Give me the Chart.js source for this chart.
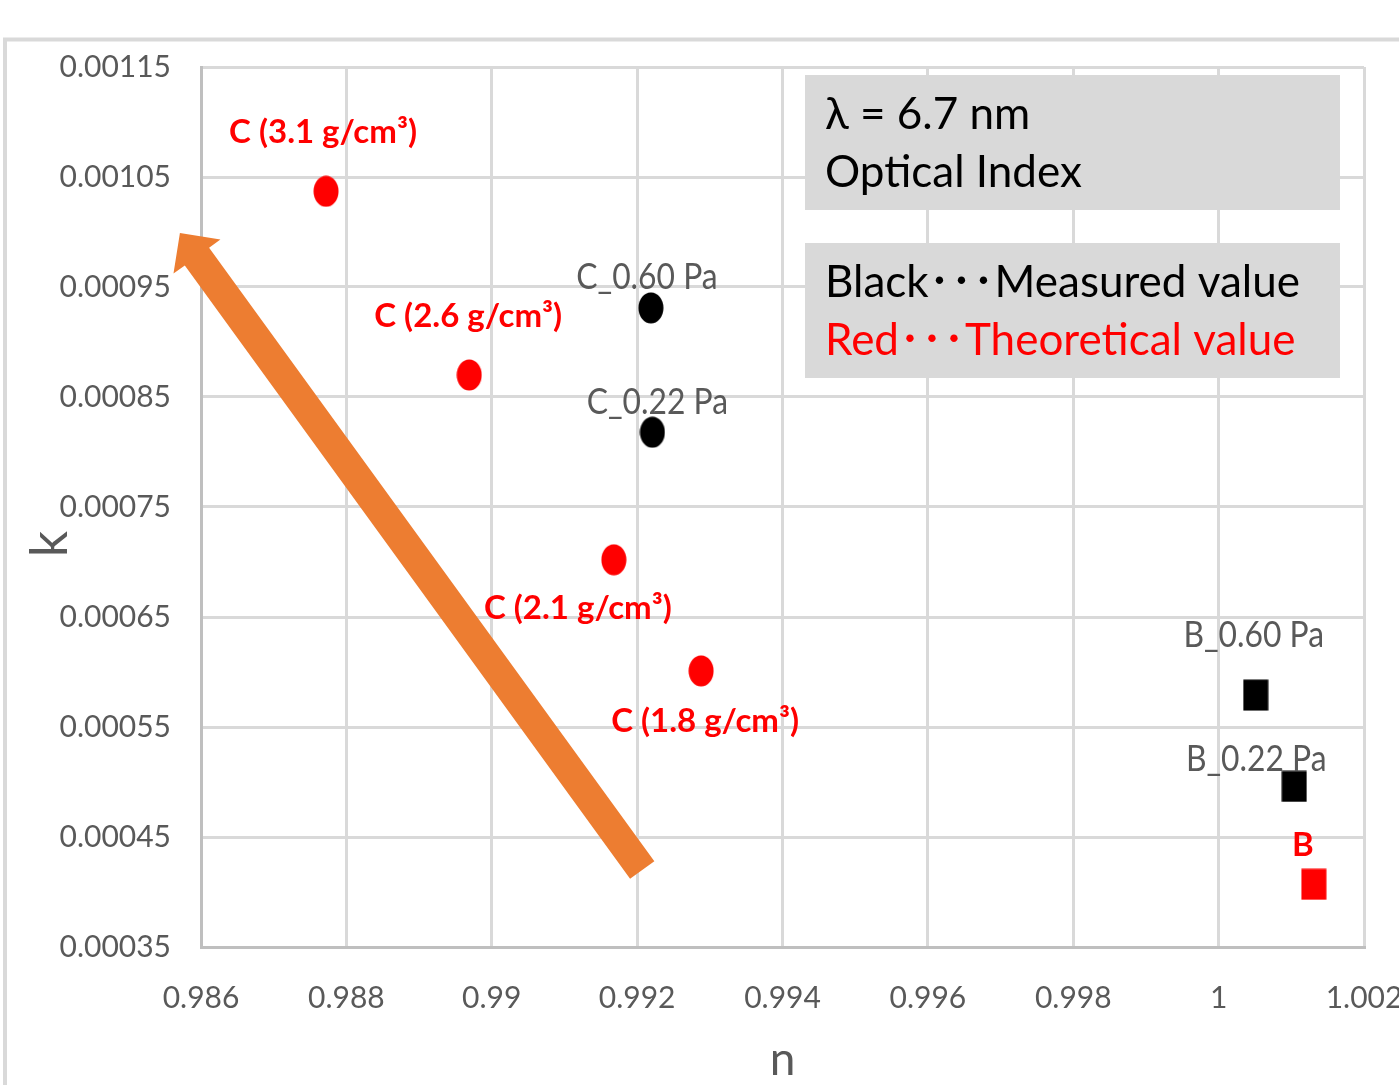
<!DOCTYPE html>
<html>
<head>
<meta charset="utf-8">
<script src="https://cdn.jsdelivr.net/npm/chart.js@4.4.1/dist/chart.umd.min.js"></script>
<style>
  html, body { margin: 0; padding: 0; background: #fff; }
  canvas { display: block; }
</style>
</head>
<body>
<canvas id="opticalChart" width="1399" height="1085"></canvas>
<script>
// values (n = refractive index, k = extinction coefficient)
const theoCNames = ["C (3.1 g/cm³)", "C (2.6 g/cm³)", "C (2.1 g/cm³)", "C (1.8 g/cm³)"];
const theoCN = [0.98772, 0.98969, 0.99168, 0.99288];
const theoCK = [0.001037, 0.00087, 0.000702, 0.000601];

const measCNames = ["C_0.60 Pa", "C_0.22 Pa"];
const measCN = [0.99219, 0.99221];
const measCK = [0.000931, 0.000818];

const measBNames = ["B_0.60 Pa", "B_0.22 Pa"];
const measBN = [1.00051, 1.00104];
const measBK = [0.000579, 0.000496];

const theoBNames = ["B"];
const theoBN = [1.00131];
const theoBK = [0.000407];

const nTicks = [0.986, 0.988, 0.99, 0.992, 0.994, 0.996, 0.998, 1, 1.002];
const kTicks = [0.00035, 0.00045, 0.00055, 0.00065, 0.00075, 0.00085, 0.00095, 0.00105, 0.00115];

// trend arrow, in (n, k)
const arrowFrom = [0.99207, 0.00042];
const arrowTo = [0.98571, 0.000999];

const FONT = "Lato, 'Noto Sans CJK JP', sans-serif";
const GREY_TEXT = "#595959";

function marker(shape, color) {
  const c = document.createElement("canvas");
  c.width = 26;
  c.height = 32;
  const g = c.getContext("2d");
  g.fillStyle = color;
  if (shape === "ellipse") {
    g.beginPath();
    g.ellipse(13, 16, 12.5, 15.5, 0, 0, Math.PI * 2);
    g.fill();
  } else {
    g.fillRect(0.5, 0.5, 25, 31);
  }
  return c;
}

const toPoints = (ns, ks) => ns.map((n, i) => ({ x: n, y: ks[i] }));

const redLabel = { font: "bold 33px " + FONT, color: "#ff0000", scaleX: 1 };
const greyLabel = { font: "37px " + FONT, color: GREY_TEXT, scaleX: 0.86 };

const datasets = [
  {
    label: "Theoretical C",
    data: toPoints(theoCN, theoCK),
    names: theoCNames,
    pointStyle: marker("ellipse", "#ff0000"),
    labelStyle: redLabel,
    labelOffsets: [[-3, -59], [-1, -59], [-36, 49], [4, 50]],
  },
  {
    label: "Measured C",
    data: toPoints(measCN, measCK),
    names: measCNames,
    pointStyle: marker("ellipse", "#000000"),
    labelStyle: greyLabel,
    labelOffsets: [[-4, -31], [5, -30]],
  },
  {
    label: "Measured B",
    data: toPoints(measBN, measBK),
    names: measBNames,
    pointStyle: marker("rect", "#000000"),
    labelStyle: greyLabel,
    labelOffsets: [[-2, -60], [-38, -27]],
  },
  {
    label: "Theoretical B",
    data: toPoints(theoBN, theoBK),
    names: theoBNames,
    pointStyle: marker("rect", "#ff0000"),
    labelStyle: redLabel,
    labelOffsets: [[-11, -39]],
  },
].map((ds) => ({ ...ds, pointRadius: 13, pointHoverRadius: 13, showLine: false }));

const infoBoxes = [
  { x: 805, y: 75, w: 535, h: 135, lines: [["λ = 6.7 nm", "#000000"], ["Optical Index", "#000000"]] },
  { x: 805, y: 243, w: 535, h: 135, lines: [["Black･･･Measured value", "#000000"], ["Red･･･Theoretical value", "#ff0000"]] },
];

const framePlugin = {
  id: "frame",
  beforeDraw(chart) {
    const ctx = chart.ctx;
    ctx.save();
    ctx.fillStyle = "#ffffff";
    ctx.fillRect(0, 0, chart.width, chart.height);
    ctx.strokeStyle = "#d9d9d9";
    ctx.lineWidth = 4;
    ctx.strokeRect(5, 39.5, chart.width + 40, chart.height + 40);
    ctx.restore();
  },
};

const arrowPlugin = {
  id: "trendArrow",
  beforeDatasetsDraw(chart) {
    const { ctx, scales: { x, y } } = chart;
    const x0 = x.getPixelForValue(arrowFrom[0]);
    const y0 = y.getPixelForValue(arrowFrom[1]);
    const x1 = x.getPixelForValue(arrowTo[0]);
    const y1 = y.getPixelForValue(arrowTo[1]);
    const len = Math.hypot(x1 - x0, y1 - y0);
    const ux = (x1 - x0) / len, uy = (y1 - y0) / len;
    const px = -uy, py = ux;
    const shaft = 15, wing = 29, headLen = 29;
    const bx = x1 - ux * headLen, by = y1 - uy * headLen;
    ctx.save();
    ctx.fillStyle = "#ed7d31";
    ctx.beginPath();
    ctx.moveTo(x0 + px * shaft, y0 + py * shaft);
    ctx.lineTo(bx + px * shaft, by + py * shaft);
    ctx.lineTo(bx + px * wing, by + py * wing);
    ctx.lineTo(x1, y1);
    ctx.lineTo(bx - px * wing, by - py * wing);
    ctx.lineTo(bx - px * shaft, by - py * shaft);
    ctx.lineTo(x0 - px * shaft, y0 - py * shaft);
    ctx.closePath();
    ctx.fill();

    // info panels
    ctx.font = "44px " + FONT;
    ctx.textAlign = "left";
    ctx.textBaseline = "alphabetic";
    infoBoxes.forEach((box) => {
      ctx.fillStyle = "#d9d9d9";
      ctx.fillRect(box.x, box.y, box.w, box.h);
      box.lines.forEach(([text, color], i) => {
        ctx.fillStyle = color;
        ctx.fillText(text, box.x + 20, box.y + 54 + i * 58);
      });
    });

    // y axis title
    ctx.fillStyle = GREY_TEXT;
    ctx.font = "52px " + FONT;
    ctx.textAlign = "center";
    ctx.textBaseline = "middle";
    ctx.translate(50, 544);
    ctx.rotate(-Math.PI / 2);
    ctx.fillText("k", 0, 0);
    ctx.restore();
  },
};

const labelPlugin = {
  id: "pointNames",
  afterDatasetsDraw(chart) {
    const ctx = chart.ctx;
    chart.data.datasets.forEach((ds, i) => {
      const meta = chart.getDatasetMeta(i);
      const st = ds.labelStyle;
      meta.data.forEach((pt, j) => {
        const [dx, dy] = ds.labelOffsets[j];
        ctx.save();
        ctx.font = st.font;
        ctx.fillStyle = st.color;
        ctx.textAlign = "center";
        ctx.textBaseline = "middle";
        ctx.translate(pt.x + dx, pt.y + dy);
        ctx.scale(st.scaleX, 1);
        ctx.fillText(ds.names[j], 0, 0);
        ctx.restore();
      });
    });
  },
};

new Chart(document.getElementById("opticalChart"), {
  type: "scatter",
  data: { datasets },
  options: {
    responsive: false,
    animation: false,
    devicePixelRatio: 1,
    layout: { padding: { left: 0, top: 67, right: 35, bottom: 0 } },
    plugins: {
      legend: { display: false },
      tooltip: { enabled: false },
    },
    scales: {
      x: {
        type: "linear",
        position: "bottom",
        min: nTicks[0],
        max: nTicks[nTicks.length - 1],
        afterBuildTicks: (scale) => {
          scale.ticks = nTicks.map((value) => ({ value }));
        },
        afterFit: (scale) => {
          scale.height = 138;
          scale.paddingLeft = 0;
          scale.paddingRight = 0;
        },
        ticks: {
          callback: (v) => String(v),
          color: GREY_TEXT,
          font: { family: FONT, size: 30 },
          padding: 33,
          maxRotation: 0,
          autoSkip: false,
        },
        grid: { color: "#d9d9d9", lineWidth: 3, drawTicks: false },
        border: { color: "#bfbfbf", width: 3 },
        title: {
          display: true,
          text: "n",
          color: GREY_TEXT,
          font: { family: FONT, size: 46, lineHeight: 1 },
          padding: { top: 0, bottom: 2 },
        },
      },
      y: {
        type: "linear",
        min: kTicks[0],
        max: kTicks[kTicks.length - 1],
        afterBuildTicks: (scale) => {
          scale.ticks = kTicks.map((value) => ({ value }));
        },
        afterFit: (scale) => {
          scale.width = 201;
          scale.paddingTop = 0;
          scale.paddingBottom = 0;
        },
        ticks: {
          callback: (v) => String(v),
          color: GREY_TEXT,
          font: { family: FONT, size: 30 },
          padding: 30,
          autoSkip: false,
        },
        grid: { color: "#d9d9d9", lineWidth: 3, drawTicks: false },
        border: { color: "#bfbfbf", width: 3 },
      },
    },
  },
  plugins: [framePlugin, arrowPlugin, labelPlugin],
});
</script>
</body>
</html>
